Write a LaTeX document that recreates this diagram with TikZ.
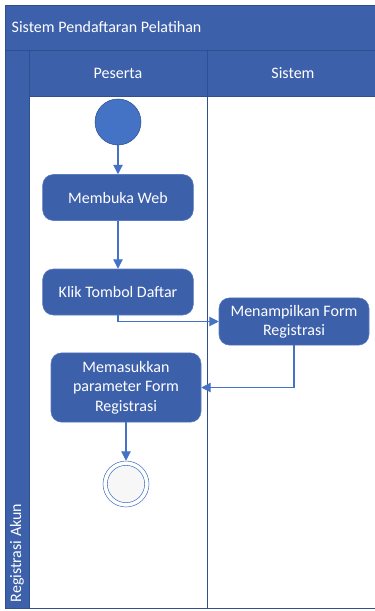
\documentclass[tikz,border=0pt]{standalone}
\usepackage{fontspec}
\setmainfont{Carlito}
\usetikzlibrary{arrows.meta, positioning}

\definecolor{laneblue}{HTML}{3D60AA}
\definecolor{edgeblue}{HTML}{2F4F90}
\definecolor{flowblue}{HTML}{4472C4}
\definecolor{boxedge}{HTML}{5A7CC0}

\begin{document}
\begin{tikzpicture}[
    x=0.75pt, y=-0.75pt,
    action/.style={rectangle, rounded corners=8pt, draw=boxedge, fill=laneblue,
                   minimum width=113pt, minimum height=34.5pt, align=center,
                   text=white, font=\fontsize{12}{14.5}\selectfont},
    header/.style={text=white, font=\fontsize{12}{14.5}\selectfont},
    flow/.style={-{Triangle[length=7pt,width=7pt]}, flowblue, line width=0.8pt}
]
\useasboundingbox (0,0) rectangle (375,611);

% swimlane frame
\fill[white] (29,96) rectangle (376,608);
\draw[edgeblue, fill=laneblue] (5,5) rectangle (376,50);
\draw[edgeblue, fill=laneblue] (5,50) rectangle (29,608);
\draw[edgeblue, fill=laneblue] (29,50) rectangle (376,96);
\draw[edgeblue] (207,50) -- (207,608);
\draw[edgeblue] (5,608) -- (376,608);

\node[header, anchor=west] (judul) at (7,27) {Sistem Pendaftaran Pelatihan};
\node[header] (peserta) at (118,73) {Peserta};
\node[header] (sistem) at (293,73) {Sistem};
\node[header, rotate=90, anchor=west] (fase) at (17,607) {Registrasi Akun};

% activities
\node[circle, draw=edgeblue, fill=flowblue, minimum size=34.5pt, inner sep=0pt] (start) at (118,122) {};
\node[action] (web) at (118,197.5) {Membuka Web};
\node[action] (daftar) at (118,292) {Klik Tombol Daftar};
\node[action, minimum width=112.5pt, minimum height=35.5pt] (tampil) at (294,321.5) {Menampilkan Form\\Registrasi};
\node[action, minimum width=112.5pt, minimum height=52pt] (isi) at (126,387.5) {Memasukkan\\parameter Form\\Registrasi};
\node[circle, draw=flowblue, fill=white, minimum size=34.5pt, inner sep=0pt] (selesai) at (126,484) {};
\node[circle, draw=flowblue, fill=gray!6, minimum size=28pt, inner sep=0pt] (selesai2) at (126,484) {};

\draw[flow] (start) -- (web);
\draw[flow] (web) -- (daftar);
\draw[flow] (daftar.south) |- (tampil.west);
\draw[flow] (tampil.south) |- (isi.east);
\draw[flow] (isi) -- (selesai);
\end{tikzpicture}
\end{document}
